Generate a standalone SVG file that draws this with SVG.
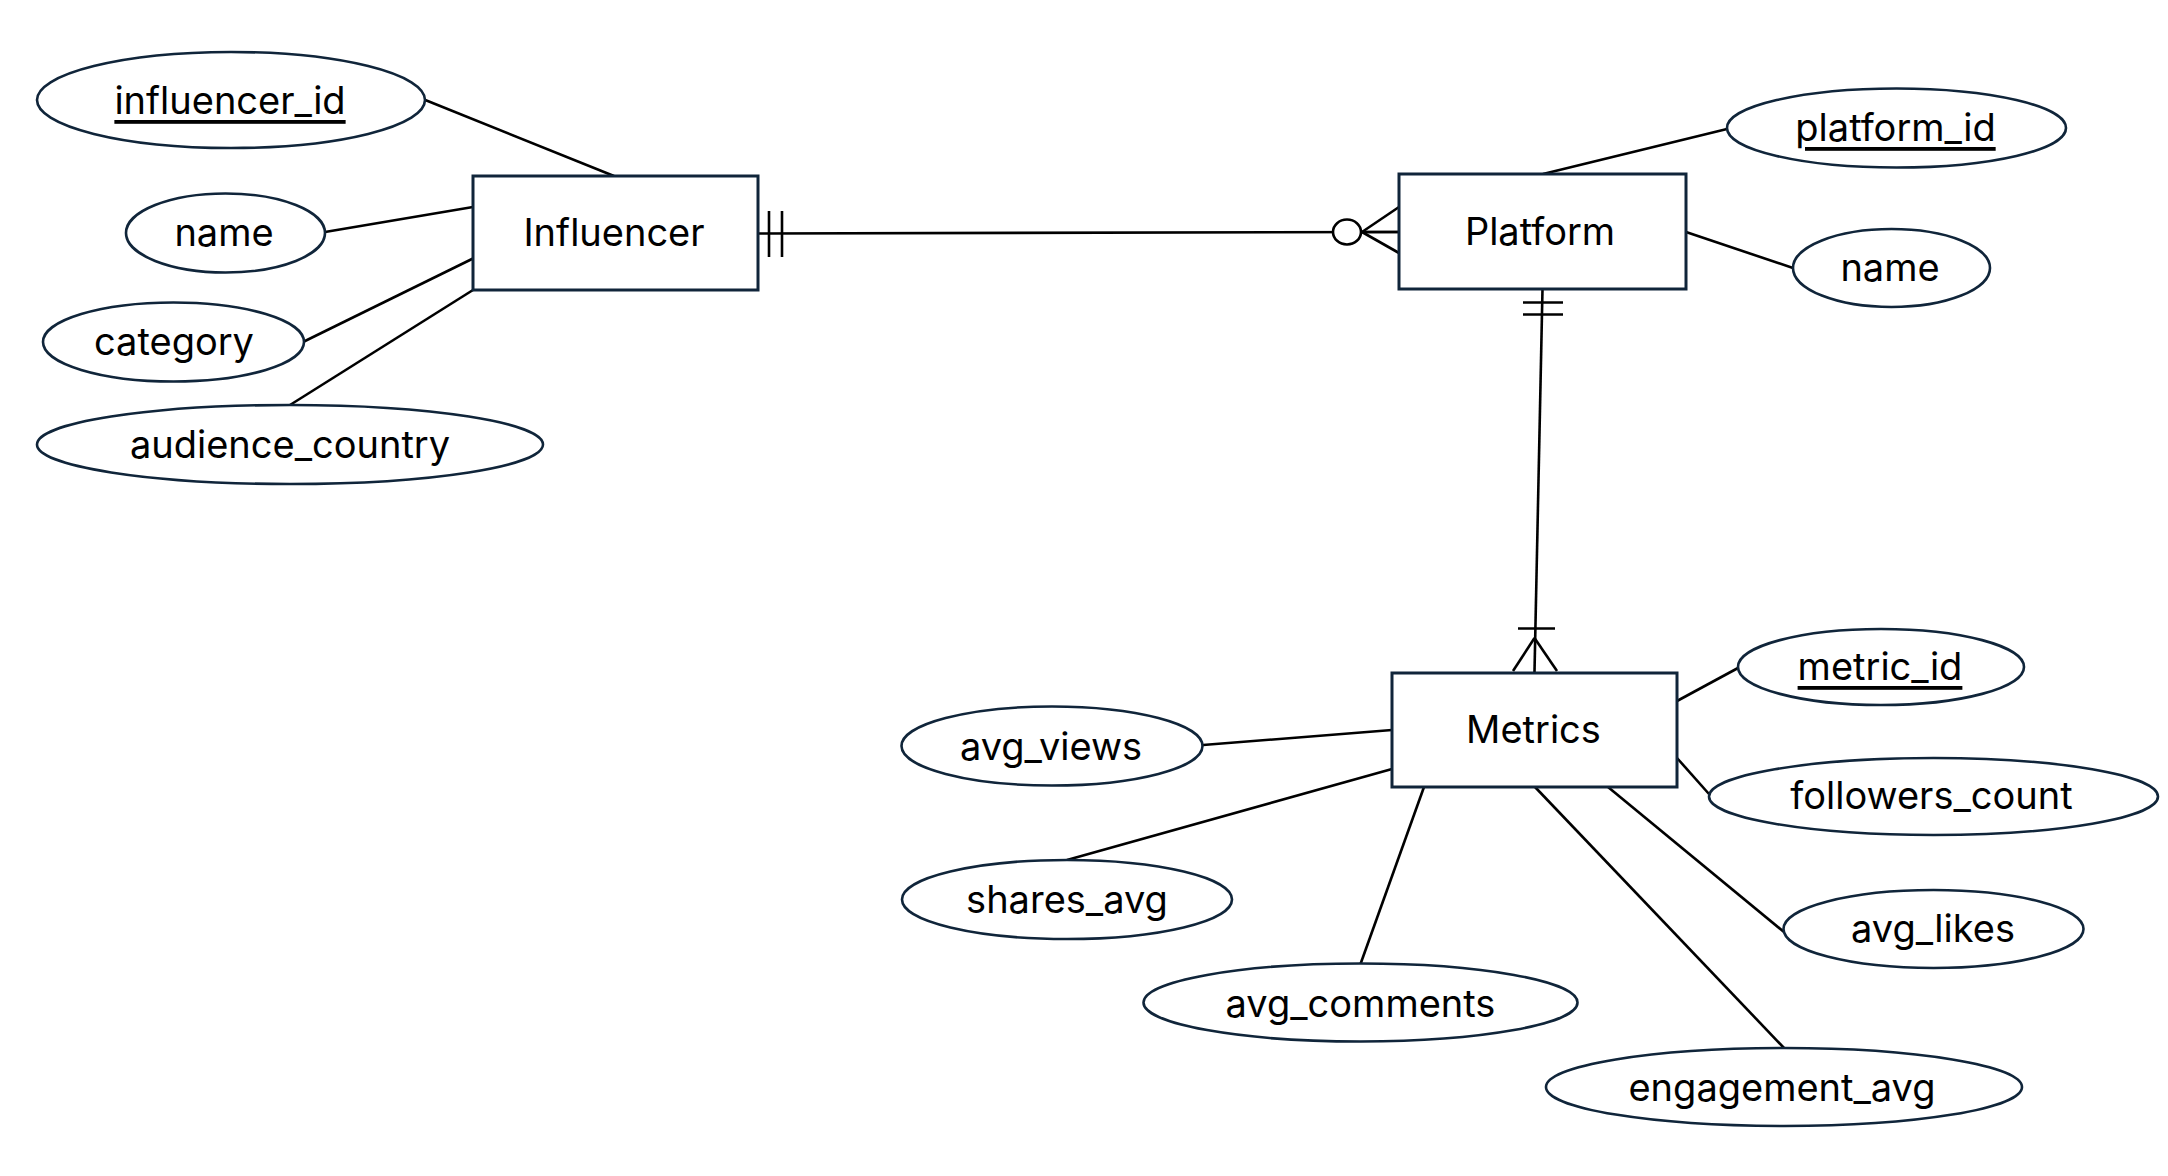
<svg xmlns="http://www.w3.org/2000/svg" width="2168" height="1176" viewBox="0 0 2168 1176">
<style>
.ent{fill:#ffffff;stroke:#10253a;stroke-width:3}
.att{fill:#ffffff;stroke:#10253a;stroke-width:2.6}
.ln{stroke:#000000;stroke-width:2.6;fill:none}
.t{font-family:Inter,"Liberation Sans",sans-serif;font-size:38px;fill:#000000;text-anchor:middle;dominant-baseline:central}
.k{text-decoration:underline}
</style>
<rect width="2168" height="1176" fill="#ffffff"/>
<g id="connectors">
<line class="ln" x1="424" y1="99.5" x2="614" y2="176"/>
<line class="ln" x1="325" y1="232" x2="473" y2="207"/>
<line class="ln" x1="304" y1="341.5" x2="473" y2="258.5"/>
<line class="ln" x1="290" y1="405" x2="473" y2="290"/>
<line class="ln" x1="1543" y1="174" x2="1727" y2="129"/>
<line class="ln" x1="1686" y1="232" x2="1793" y2="268"/>
<line class="ln" x1="1677" y1="701" x2="1738" y2="668"/>
<line class="ln" x1="1677" y1="758" x2="1709" y2="794"/>
<line class="ln" x1="1608" y1="787" x2="1784" y2="932"/>
<line class="ln" x1="1535" y1="787" x2="1784" y2="1048"/>
<line class="ln" x1="1424" y1="787" x2="1360.5" y2="964"/>
<line class="ln" x1="1392" y1="769" x2="1067" y2="860"/>
<line class="ln" x1="1203" y1="745" x2="1392" y2="730"/>
<line class="ln" x1="758" y1="233.5" x2="1399" y2="232"/>
<line class="ln" x1="769" y1="211" x2="769" y2="257"/>
<line class="ln" x1="782" y1="211" x2="782" y2="257"/>
<ellipse class="ln" cx="1347" cy="232" rx="14" ry="12.5" style="fill:#ffffff"/>
<line class="ln" x1="1362" y1="232" x2="1399" y2="207"/>
<line class="ln" x1="1362" y1="232" x2="1399" y2="253"/>
<line class="ln" x1="1361" y1="232" x2="1399" y2="232"/>
<line class="ln" x1="1542.5" y1="289" x2="1534.5" y2="672"/>
<line class="ln" x1="1523" y1="302.5" x2="1563" y2="302.5"/>
<line class="ln" x1="1523" y1="314.5" x2="1563" y2="314.5"/>
<line class="ln" x1="1518" y1="628.5" x2="1555" y2="628.5"/>
<line class="ln" x1="1534.5" y1="638" x2="1513" y2="671"/>
<line class="ln" x1="1534.5" y1="638" x2="1557" y2="671"/>
</g>
<g id="influencer"><rect class="ent" x="473" y="176" width="285" height="114"/><text class="t" x="614" y="232">Influencer</text></g>
<g id="influencer_id"><ellipse class="att" cx="231" cy="100" rx="194" ry="48"/><text class="t k" x="230" y="100">influencer_id</text></g>
<g id="influencer_name"><ellipse class="att" cx="225.5" cy="233" rx="99.5" ry="39.5"/><text class="t" x="224" y="232">name</text></g>
<g id="category"><ellipse class="att" cx="173.5" cy="342" rx="130.5" ry="39.5"/><text class="t" x="174" y="341">category</text></g>
<g id="audience_country"><ellipse class="att" cx="290" cy="444.5" rx="253" ry="39.5"/><text class="t" x="290" y="444">audience_country</text></g>
<g id="platform"><rect class="ent" x="1399" y="174" width="287" height="115"/><text class="t" x="1540" y="231">Platform</text></g>
<g id="platform_id"><ellipse class="att" cx="1896.5" cy="128" rx="169.5" ry="39.5"/><text class="t k" x="1895.5" y="127">platform_id</text></g>
<g id="platform_name"><ellipse class="att" cx="1891.5" cy="268" rx="98.5" ry="39"/><text class="t" x="1890" y="267">name</text></g>
<g id="metrics"><rect class="ent" x="1392" y="673" width="285" height="114"/><text class="t" x="1533.5" y="729">Metrics</text></g>
<g id="metric_id"><ellipse class="att" cx="1881" cy="667" rx="143" ry="38"/><text class="t k" x="1880" y="666">metric_id</text></g>
<g id="followers_count"><ellipse class="att" cx="1933.5" cy="796.5" rx="224.5" ry="38.5"/><text class="t" x="1931.5" y="795">followers_count</text></g>
<g id="avg_likes"><ellipse class="att" cx="1933.5" cy="929" rx="150" ry="39"/><text class="t" x="1933" y="928">avg_likes</text></g>
<g id="engagement_avg"><ellipse class="att" cx="1784" cy="1087" rx="238" ry="39"/><text class="t" x="1782" y="1087">engagement_avg</text></g>
<g id="avg_comments"><ellipse class="att" cx="1360.5" cy="1002.5" rx="217" ry="39"/><text class="t" x="1360.5" y="1003">avg_comments</text></g>
<g id="shares_avg"><ellipse class="att" cx="1067" cy="899.5" rx="165" ry="39.5"/><text class="t" x="1067" y="899">shares_avg</text></g>
<g id="avg_views"><ellipse class="att" cx="1052" cy="746" rx="150.5" ry="39.5"/><text class="t" x="1051" y="746">avg_views</text></g>
</svg>
